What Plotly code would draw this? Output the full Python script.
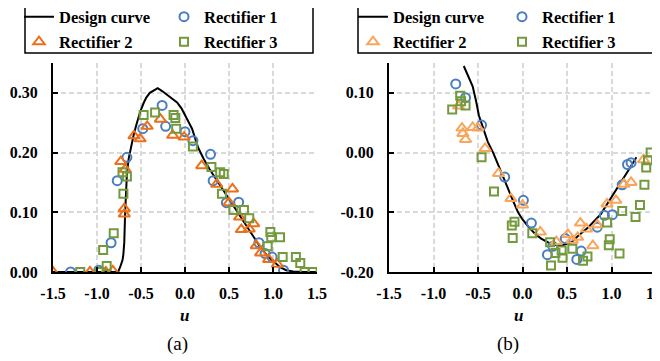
import plotly.graph_objects as go

# ---------------- data: panel (a) ----------------
design_a_x = [-1.5, -0.76, -0.73, -0.71, -0.70, -0.69, -0.68, -0.67, -0.66, -0.64, -0.61, -0.58, -0.55,
              -0.51, -0.47, -0.44, -0.40, -0.35, -0.31, -0.26, -0.21, -0.15, -0.09, -0.04, 0.02, 0.08,
              0.15, 0.21, 0.28, 0.40, 0.50, 0.60, 0.74, 0.85, 0.93, 1.00, 1.08, 1.15, 1.23, 1.35, 1.5]
design_a_y = [0.0, 0.0, 0.011, 0.02, 0.03, 0.05, 0.10, 0.14, 0.165, 0.19, 0.212, 0.232, 0.248,
              0.268, 0.283, 0.292, 0.300, 0.305, 0.308, 0.303, 0.297, 0.291, 0.284, 0.274, 0.258, 0.240,
              0.208, 0.190, 0.172, 0.145, 0.122, 0.098, 0.067, 0.043, 0.028, 0.018, 0.008, 0.003, 0.001, 0.0, 0.0]

r1a_x = [-1.30, -0.98, -0.84, -0.77, -0.66, -0.48, -0.26, -0.22, 0.00, 0.09, 0.29, 0.32, 0.47, 0.61,
         0.84, 0.91, 0.99, 1.12]
r1a_y = [0.0, 0.003, 0.049, 0.153, 0.192, 0.240, 0.279, 0.244, 0.235, 0.220, 0.197, 0.153, 0.116, 0.117,
         0.049, 0.031, 0.025, 0.003]

r2a_x = [-1.50, -1.08, -0.90, -0.82, -0.69, -0.69, -0.73, -0.68, -0.58, -0.51, -0.43, -0.28, -0.14,
         -0.01, 0.19, 0.36, 0.54, 0.50, 0.62, 0.64, 0.73, 0.78, 0.81, 0.86, 0.95, 1.05]
r2a_y = [0.0, 0.0, 0.0, 0.002, 0.097, 0.106, 0.185, 0.172, 0.228, 0.223, 0.244, 0.256, 0.229,
         0.226, 0.178, 0.147, 0.139, 0.116, 0.092, 0.071, 0.072, 0.081, 0.044, 0.032, 0.021, 0.013]

r3a_x = [-1.19, -0.97, -0.89, -0.93, -0.81, -0.70, -0.71, -0.66, -0.47, -0.34, -0.13, -0.11, -0.10,
         0.09, 0.30, 0.40, 0.44, 0.42, 0.55, 0.67, 0.73, 0.97, 0.98, 1.08, 0.94, 1.11, 1.26, 1.31, 1.36, 1.45]
r3a_y = [0.0, 0.0, 0.010, 0.037, 0.065, 0.131, 0.167, 0.160, 0.263, 0.267, 0.263, 0.258, 0.240,
         0.210, 0.176, 0.167, 0.164, 0.131, 0.104, 0.104, 0.090, 0.067, 0.058, 0.058, 0.043, 0.025,
         0.025, 0.015, 0.0, 0.0]

# ---------------- data: panel (b) ----------------
design_b_x = [-0.66, -0.60, -0.56, -0.52, -0.49, -0.44, -0.39, -0.33, -0.27, -0.22, -0.16, -0.10, -0.05,
              0.0, 0.07, 0.14, 0.21, 0.32, 0.44, 0.55, 0.63, 0.74, 0.88, 0.98, 1.09, 1.21, 1.28]
design_b_y = [0.145, 0.125, 0.111, 0.085, 0.062, 0.040, 0.018, 0.0, -0.022, -0.042, -0.063, -0.083, -0.100,
              -0.112, -0.125, -0.136, -0.144, -0.153, -0.156, -0.150, -0.139, -0.125, -0.103, -0.080,
              -0.053, -0.025, -0.008]

r1b_x = [-0.75, -0.64, -0.46, -0.20, 0.01, 0.10, 0.28, 0.34, 0.48, 0.61, 0.66, 0.84, 0.92, 1.01, 1.12,
         1.18, 1.22]
r1b_y = [0.115, 0.092, 0.046, -0.041, -0.080, -0.118, -0.171, -0.157, -0.144, -0.179, -0.165, -0.125,
         -0.105, -0.104, -0.054, -0.020, -0.017]

r2b_x = [-0.72, -0.68, -0.67, -0.64, -0.56, -0.50, -0.42, -0.27, -0.13, 0.00, 0.20, 0.38, 0.51, 0.56,
         0.62, 0.65, 0.72, 0.79, 0.84, 0.95, 1.05, 1.14, 1.22, 1.36]
r2b_y = [0.078, 0.041, 0.032, 0.022, 0.042, 0.041, 0.007, -0.035, -0.077, -0.088, -0.133, -0.149,
         -0.137, -0.147, -0.142, -0.118, -0.128, -0.156, -0.121, -0.086, -0.080, -0.053, -0.050, -0.012]

r3b_x = [-0.79, -0.70, -0.69, -0.64, -0.46, -0.32, -0.09, -0.12, -0.11, 0.11, 0.31, 0.37, 0.32, 0.44,
         0.45, 0.56, 0.68, 0.73, 0.95, 0.98, 0.97, 1.09, 1.12, 1.27, 1.32, 1.37, 1.39, 1.41, 1.44]
r3b_y = [0.072, 0.095, 0.086, 0.079, -0.008, -0.065, -0.116, -0.122, -0.143, -0.135, -0.150, -0.168,
         -0.189, -0.164, -0.176, -0.161, -0.181, -0.174, -0.117, -0.145, -0.155, -0.169, -0.098, -0.108,
         -0.088, -0.054, -0.025, -0.013, 0.0]

# ---------------- ticks ----------------
x_tickvals = [-1.5, -1.0, -0.5, 0.0, 0.5, 1.0, 1.5]
x_ticktext = ["-1.5", "-1.0", "-0.5", "0.0", "0.5", "1.0", "1.5"]
ya_tickvals = [0.0, 0.1, 0.2, 0.3]
ya_ticktext = ["0.00", "0.10", "0.20", "0.30"]
yb_tickvals = [-0.2, -0.1, 0.0, 0.1]
yb_ticktext = ["-0.20", "-0.10", "0.00", "0.10"]

FONT = "Liberation Serif"
BLUE = "#4a7ebf"
ORANGE_A = "#ec6f1a"
ORANGE_B = "#f9a55c"
GREEN = "#739a3e"

fig = go.Figure()

def add_panel(xa, ya, dx, dy, r1x, r1y, r2x, r2y, r3x, r3y, orange, lg1, lg2):
    fig.add_trace(go.Scatter(x=dx, y=dy, mode="lines", name="Design curve",
                             line=dict(color="black", width=2), xaxis=xa, yaxis=ya, legend=lg1))
    fig.add_trace(go.Scatter(x=r1x, y=r1y, mode="markers", name="Rectifier 1",
                             marker=dict(symbol="circle-open", size=9, color=BLUE, line=dict(width=2)),
                             xaxis=xa, yaxis=ya, legend=lg1))
    fig.add_trace(go.Scatter(x=r2x, y=r2y, mode="markers", name="Rectifier 2",
                             marker=dict(symbol="triangle-up-open", size=10, color=orange, line=dict(width=2)),
                             xaxis=xa, yaxis=ya, legend=lg2))
    fig.add_trace(go.Scatter(x=r3x, y=r3y, mode="markers", name="Rectifier 3",
                             marker=dict(symbol="square-open", size=8, color=GREEN, line=dict(width=2)),
                             xaxis=xa, yaxis=ya, legend=lg2))

add_panel("x", "y", design_a_x, design_a_y, r1a_x, r1a_y, r2a_x, r2a_y, r3a_x, r3a_y, ORANGE_A, "legend", "legend2")
add_panel("x2", "y2", design_b_x, design_b_y, r1b_x, r1b_y, r2b_x, r2b_y, r3b_x, r3b_y, ORANGE_B, "legend3", "legend4")

tickfont = dict(family=FONT, size=16, color="black", weight="bold")
GRID = dict(showgrid=True, gridcolor="#d9d9d9", griddash="5px,3px", gridwidth=1.5)

def xax(domain, anchor):
    return dict(domain=domain, anchor=anchor, range=[-1.5, 1.5], tickvals=x_tickvals, ticktext=x_ticktext,
                showline=True, linecolor="black", linewidth=2, ticks="inside", ticklen=5, tickwidth=2,
                tickcolor="black", zeroline=False, tickfont=tickfont, ticklabelstandoff=6,
                ticklabeloverflow="allow", **GRID)

def yax(rng, tv, tt, anchor):
    return dict(anchor=anchor, range=rng, tickvals=tv, ticktext=tt, domain=[0, 1],
                showline=True, linecolor="black", linewidth=2, ticks="inside", ticklen=5, tickwidth=2,
                tickcolor="black", zeroline=False, tickfont=tickfont, ticklabelstandoff=10,
                ticklabeloverflow="allow", **GRID)

# page offset (browser body margin) compensated: target pixel p -> figure pixel p - OFF
OFF = 8
W, H = 660 - OFF, 361 - OFF
ML, MR, MT, MB = 53 - OFF, 12 - OFF, 63 - OFF, 89
PW = W - ML - MR
PH = H - MT - MB

def px_x(p):
    return (p - OFF - ML) / PW

def px_y(p):
    return (H - MB - (p - OFF)) / PH

legfont = dict(family=FONT, size=16.5, color="black", weight="bold")

def leg(xpx, ypx, ew):
    return dict(orientation="h", x=px_x(xpx), xanchor="left", y=px_y(ypx), yanchor="middle",
                entrywidth=ew, entrywidthmode="pixels", font=legfont, bgcolor="rgba(0,0,0,0)",
                borderwidth=0, itemwidth=30, tracegroupgap=0)

def label(text, xpx, ypx, size):
    return dict(text=text, xref="paper", yref="paper", x=px_x(xpx), y=px_y(ypx),
                xanchor="center", yanchor="middle", showarrow=False,
                font=dict(family=FONT, size=size, color="black"))

fig.update_layout(
    width=W, height=H, margin=dict(l=ML, r=MR, t=MT, b=MB, autoexpand=False),
    paper_bgcolor="white", plot_bgcolor="white",
    xaxis=xax([0, px_x(317)], "y"),
    yaxis=yax([0, 0.35], ya_tickvals, ya_ticktext, "x"),
    xaxis2=xax([px_x(389), 1], "y2"),
    yaxis2=yax([-0.2, 0.15], yb_tickvals, yb_ticktext, "x2"),
    legend=leg(19, 17, 100),
    legend2=leg(19, 42, 100),
    legend3=leg(353, 17, 104),
    legend4=leg(353, 42, 104),
    shapes=[
        dict(type="rect", xref="paper", yref="paper", x0=px_x(25), x1=px_x(313), y0=px_y(53), y1=px_y(4),
             line=dict(color="black", width=1.5)),
        dict(type="rect", xref="paper", yref="paper", x0=px_x(358), x1=px_x(653), y0=px_y(53), y1=px_y(4),
             line=dict(color="black", width=1.5)),
    ],
    annotations=[
        label("<b><i>u</i></b>", 184, 315, 17),
        label("<b><i>u</i></b>", 518, 315, 17),
        label("(a)", 177, 344, 19),
        label("(b)", 508, 344, 19),
    ],
    showlegend=True,
)

fig.write_html("out.html")
